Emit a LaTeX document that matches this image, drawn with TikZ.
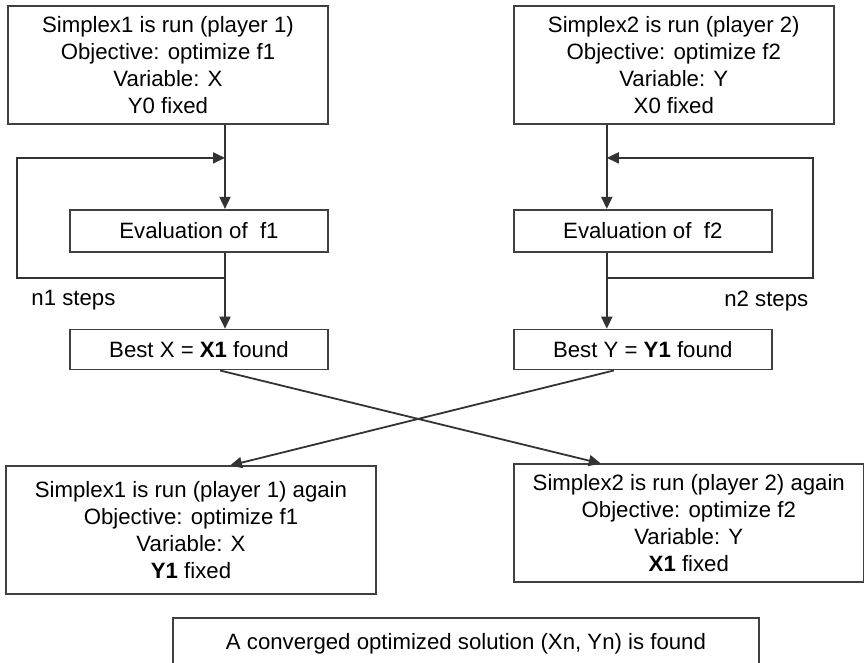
\documentclass[tikz,border=0pt]{standalone}
\usepackage{fontspec}
\setmainfont{Liberation Sans}
\usetikzlibrary{positioning,arrows.meta}

\begin{document}
\begin{tikzpicture}[
    node distance=40pt,
    box/.style={rectangle, draw=black!75, line width=0.9pt, fill=white, align=center, inner sep=2pt, font=\fontsize{11.1}{13.5}\selectfont},
    simplex/.style={box, minimum width=160pt, minimum height=59pt},
    evalbox/.style={box, minimum width=129pt, minimum height=21pt},
    line/.style={draw=black!80, line width=0.9pt},
    arrow/.style={line, -{Triangle[length=6pt,width=5.5pt]}},
    steps/.style={font=\fontsize{11.1}{13.5}\selectfont, inner sep=0pt}
]
\useasboundingbox (0,0) rectangle (432pt,-331.5pt);

% Nodes
\node[simplex] (simplex1) at (84pt,-32.5pt) {Simplex1 is run (player 1)\\Objective: optimize f1\\Variable: X\\Y0 fixed};
\node[simplex, right=92pt of simplex1] (simplex2) {Simplex2 is run (player 2)\\Objective: optimize f2\\Variable: Y\\X0 fixed};
\node[evalbox, below=42pt of simplex1, xshift=15.5pt] (eval1) {Evaluation of\ \ f1};
\node[evalbox, below=42pt of simplex2, xshift=-15.5pt] (eval2) {Evaluation of\ \ f2};
\node[evalbox, minimum height=20pt, below=38pt of eval1] (best1) {Best X = \textbf{X1} found};
\node[evalbox, minimum height=20pt, below=38pt of eval2] (best2) {Best Y = \textbf{Y1} found};
\node[box, minimum width=185pt, minimum height=64pt, below=47.5pt of best1, xshift=-4pt] (again1) {Simplex1 is run (player 1) again\\Objective: optimize f1\\Variable: X\\\textbf{Y1} fixed};
\node[box, minimum width=175pt, minimum height=59pt, below=46.5pt of best2, xshift=23pt] (again2) {Simplex2 is run (player 2) again\\Objective: optimize f2\\Variable: Y\\\textbf{X1} fixed};
\node[box, minimum width=293pt, minimum height=25.5pt, below=11pt of again1, xshift=137.5pt] (final) {A converged optimized solution (Xn, Yn) is found};

% Loop points
\coordinate (t1) at ([xshift=13pt]eval1.center);
\coordinate (t2) at ([xshift=-18pt]eval2.center);
\path (simplex1.south -| t1) ++(0,-16.5pt) coordinate (in1);
\path (eval1.south -| t1) ++(0,-12.5pt) coordinate (out1);
\path (simplex1.west |- out1) ++(5pt,0) coordinate (c1);
\path (simplex2.south -| t2) ++(0,-16.5pt) coordinate (in2);
\path (eval2.south -| t2) ++(0,-12.5pt) coordinate (out2);
\path (simplex2.east |- out2) ++(-11pt,0) coordinate (c2);

% Arrows
\draw[arrow] (simplex1.south -| t1) -- (eval1.north -| t1);
\draw[arrow] (eval1.south -| t1) -- (best1.north -| t1);
\draw[arrow] (out1) -- (c1) |- (in1);
\draw[arrow] (simplex2.south -| t2) -- (eval2.north -| t2);
\draw[arrow] (eval2.south -| t2) -- (best2.north -| t2);
\draw[arrow] (out2) -- (c2) |- (in2);
\draw[arrow] ([xshift=10.5pt]best1.south) -- ([xshift=-44pt]again2.north);
\draw[arrow] ([xshift=-14.5pt]best2.south) -- ([xshift=19.5pt]again1.north);

% Labels
\node[steps, below right=6.25pt and 7pt of c1] (n1) {n1 steps};
\node[steps, below left=6.25pt and 2pt of c2] (n2) {n2 steps};

\end{tikzpicture}
\end{document}
